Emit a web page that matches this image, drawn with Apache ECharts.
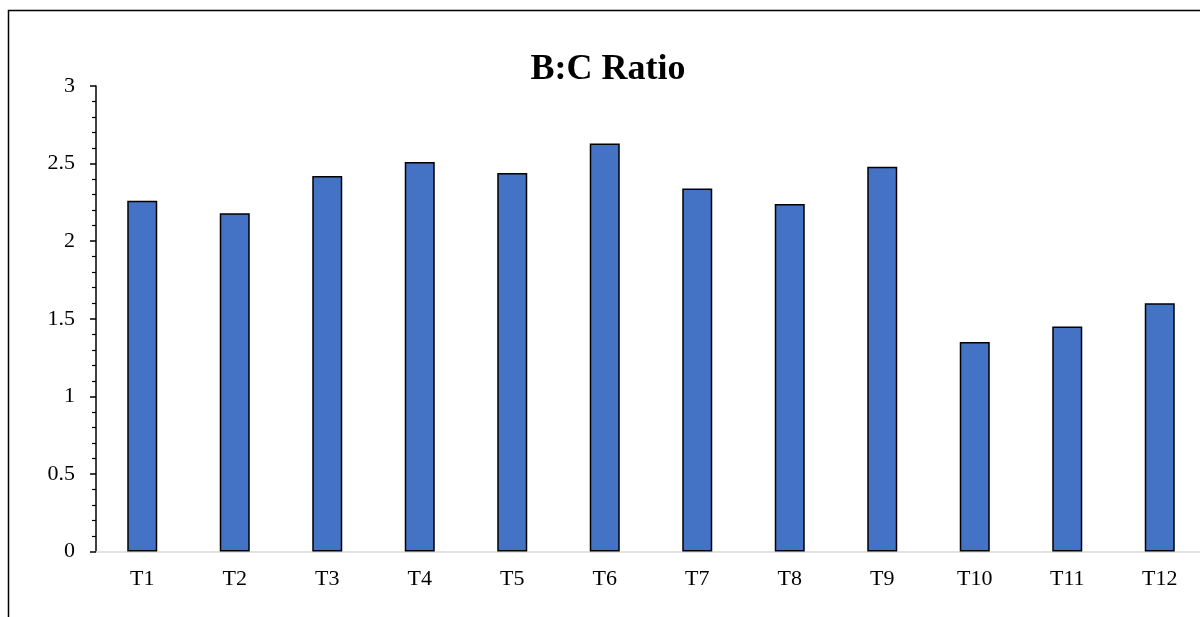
<!DOCTYPE html>
<html>
<head>
<meta charset="utf-8">
<script src="https://cdn.jsdelivr.net/npm/echarts@6/dist/echarts.min.js"></script>
<style>
  html, body { margin: 0; padding: 0; background: #ffffff; }
  #chart { width: 1200px; height: 617px; }
</style>
</head>
<body>
<div id="chart"></div>
<script>
// Treatments and their B:C ratio
const categories = ['T1', 'T2', 'T3', 'T4', 'T5', 'T6', 'T7', 'T8', 'T9', 'T10', 'T11', 'T12'];
const ratios = [2.26, 2.18, 2.42, 2.51, 2.44, 2.63, 2.34, 2.24, 2.48, 1.35, 1.45, 1.60];
const yTicks = { min: 0, max: 3, interval: 0.5 };

const chart = echarts.init(document.getElementById('chart'), null, { renderer: 'canvas' });
const serif = '"Liberation Serif", "Times New Roman", serif';

chart.setOption({
  backgroundColor: '#ffffff',
  animation: false,
  title: {
    text: 'B:C Ratio',
    left: 603,
    top: 47,
    textAlign: 'center',
    textStyle: { fontFamily: serif, fontSize: 36, fontWeight: 'bold', color: '#000000' }
  },
  graphic: [{
    type: 'rect',
    silent: true,
    shape: { x: 8.5, y: 10.5, width: 1210, height: 640 },
    style: { fill: 'none', stroke: '#000000', lineWidth: 1.5 }
  }],
  // plot area runs slightly past the right edge of the page
  grid: { left: 96, right: -6, top: 86, bottom: 65.5, outerBoundsMode: 'none', containLabel: false },
  xAxis: {
    type: 'category',
    data: categories,
    axisLine: { lineStyle: { color: '#d9d9d9', width: 1.5 } },
    axisTick: { show: false },
    axisLabel: { fontFamily: serif, fontSize: 22, color: '#000000', margin: 17 }
  },
  yAxis: {
    type: 'value',
    min: yTicks.min,
    max: yTicks.max,
    interval: yTicks.interval,
    axisLine: { show: true, lineStyle: { color: '#000000', width: 1.5 } },
    axisTick: { show: true, length: 6, lineStyle: { color: '#000000', width: 1.5 } },
    minorTick: { show: true, splitNumber: 5, length: 4, lineStyle: { color: '#000000', width: 1.2 } },
    splitLine: { show: false },
    axisLabel: { fontFamily: serif, fontSize: 22, color: '#000000', margin: 21 }
  },
  series: [{
    type: 'bar',
    data: ratios,
    barWidth: 30,
    itemStyle: { color: '#4472C4', borderColor: '#000000', borderWidth: 1.5 }
  }]
});
</script>
</body>
</html>
